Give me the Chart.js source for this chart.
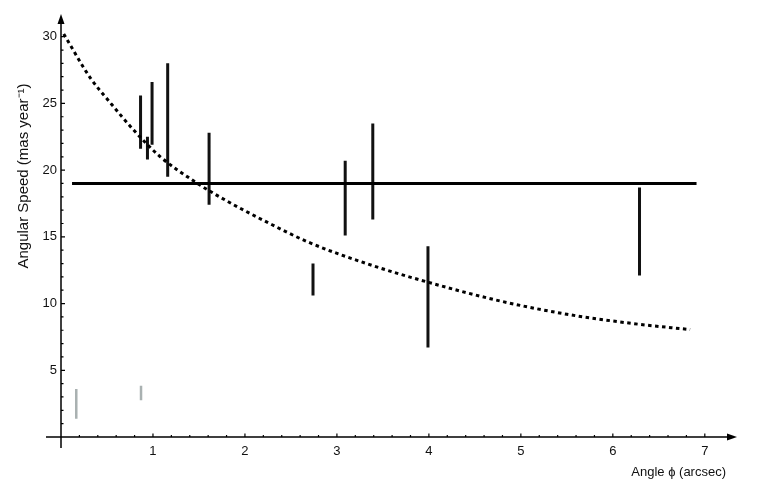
<!DOCTYPE html>
<html>
<head>
<meta charset="utf-8">
<script src="https://cdn.jsdelivr.net/npm/chart.js@4/dist/chart.umd.min.js"></script>
<style>
  html, body { margin: 0; padding: 0; background: #fff; }
  #wrap { width: 771px; height: 496px; }
</style>
</head>
<body>
<div id="wrap"><canvas id="speed-chart"></canvas></div>
<script>
// ==============================================================
//  Data
// ==============================================================

// black error bars: angle (arcsec), low / high speed (mas/yr)
const barX = [0.865, 0.94, 0.99, 1.16, 1.61, 2.74, 3.09, 3.39, 3.99, 6.29];
const barLow = [21.6, 20.8, 21.9, 19.5, 17.4, 10.6, 15.1, 16.3, 6.7, 12.1];
const barHigh = [25.6, 22.5, 26.6, 28.0, 22.8, 13.0, 20.7, 23.5, 14.3, 18.7];

// grey error bars
const greyX = [0.166, 0.87];
const greyLow = [1.36, 2.76];
const greyHigh = [3.6, 3.85];

// horizontal mean line
const meanX = [0.12, 6.91];
const meanY = [19, 19];

// dotted fit curve
const curveX = [0.03, 0.32, 0.53, 0.79, 1.08, 1.44, 1.8, 2.24, 2.69, 3.32, 3.99, 4.77, 5.5, 6.22, 6.84];
const curveY = [30.2, 26.9, 25.1, 23.0, 21.0, 19.2, 17.7, 16.1, 14.6, 13.0, 11.6, 10.2, 9.2, 8.5, 8.05];

// axes
const xTicks = [1, 2, 3, 4, 5, 6, 7];
const yTicks = [5, 10, 15, 20, 25, 30];
const xTitle = "Angle \u03D5 (arcsec)";
const yTitle = "Angular Speed (mas year\u207B\u00B9)";

const FONT = "'Liberation Sans', Arial, Helvetica, sans-serif";

// ==============================================================
//  Helpers
// ==============================================================

// turn bars into one broken line: low, high, gap, ...
const makeSegments = (xs, lows, highs) => {
  let pts = [];
  xs.forEach((x, i) => {
    pts.push({ x: x, y: lows[i] });
    pts.push({ x: x, y: highs[i] });
    pts.push({ x: x, y: null });
  });
  return pts;
};

const zip = (xs, ys) => xs.map((x, i) => ({ x: x, y: ys[i] }));

// draws the arrow axes, small ticks and titles
const axesPlugin = {
  id: "arrowAxes",
  afterDraw(chart) {
    const ctx = chart.ctx;
    const xs = chart.scales.x;
    const ys = chart.scales.y;
    const x0 = xs.getPixelForValue(0);
    const y0 = ys.getPixelForValue(0);
    const right = chart.chartArea.right;
    const top = chart.chartArea.top;

    ctx.save();
    ctx.strokeStyle = "#000";
    ctx.fillStyle = "#000";
    ctx.lineWidth = 1.5;

    // axis lines
    ctx.beginPath();
    ctx.moveTo(x0 - 15, y0);
    ctx.lineTo(right - 6, y0);
    ctx.moveTo(x0, y0 + 11);
    ctx.lineTo(x0, top + 6);
    ctx.stroke();

    // arrow heads
    ctx.beginPath();
    ctx.moveTo(right, y0);
    ctx.lineTo(right - 10, y0 - 3.5);
    ctx.lineTo(right - 10, y0 + 3.5);
    ctx.closePath();
    ctx.fill();
    ctx.beginPath();
    ctx.moveTo(x0, top);
    ctx.lineTo(x0 - 3.5, top + 10);
    ctx.lineTo(x0 + 3.5, top + 10);
    ctx.closePath();
    ctx.fill();

    // x ticks, every 0.2
    ctx.lineWidth = 1.2;
    ctx.beginPath();
    for (let i = 1; i <= 35; i++) {
      const px = xs.getPixelForValue(i / 5);
      const len = i % 5 === 0 ? 3.5 : 2;
      ctx.moveTo(px, y0);
      ctx.lineTo(px, y0 - len);
    }
    // y ticks, every 1
    for (let j = 1; j <= 30; j++) {
      const py = ys.getPixelForValue(j);
      const len = j % 5 === 0 ? 4 : 2.5;
      ctx.moveTo(x0, py);
      ctx.lineTo(x0 + len, py);
    }
    ctx.stroke();

    // titles
    ctx.fillStyle = "#111";
    ctx.font = "13px " + FONT;
    ctx.textAlign = "right";
    ctx.textBaseline = "middle";
    ctx.fillText(xTitle, 726, 472);

    ctx.translate(24, 176);
    ctx.rotate(-Math.PI / 2);
    ctx.font = "15px " + FONT;
    ctx.textAlign = "center";
    ctx.fillText(yTitle, 0, 0);
    ctx.restore();
  },
};

// ==============================================================
//  Chart
// ==============================================================

let speedCtx = document.getElementById("speed-chart").getContext("2d");

const lineSet = (label, data, color, width, extra) =>
  Object.assign(
    {
      label: label,
      data: data,
      showLine: true,
      borderColor: color,
      borderWidth: width,
      pointRadius: 0,
      pointHoverRadius: 0,
      spanGaps: false,
      borderCapStyle: "butt",
      tension: 0,
    },
    extra || {}
  );

var speedChart = new Chart(speedCtx, {
  type: "scatter",
  data: {
    datasets: [
      lineSet("fit", zip(curveX, curveY), "#000", 3, {
        borderDash: [3.5, 3.5],
        cubicInterpolationMode: "monotone",
      }),
      lineSet("mean", zip(meanX, meanY), "#000", 3),
      lineSet("bars", makeSegments(barX, barLow, barHigh), "#111", 3),
      lineSet("grey", makeSegments(greyX, greyLow, greyHigh), "#a9b1b1", 2.5),
    ],
  },
  options: {
    responsive: true,
    maintainAspectRatio: false,
    animation: false,
    events: [],
    layout: { padding: { top: 14, right: 34, left: 0, bottom: 0 } },
    plugins: {
      legend: { display: false },
      tooltip: { enabled: false },
    },
    scales: {
      x: {
        type: "linear",
        min: 0,
        max: 7.35,
        grid: { display: false, drawTicks: false, tickLength: 0 },
        border: { display: false },
        afterBuildTicks: (scale) => {
          scale.ticks = xTicks.map((v) => ({ value: v }));
        },
        afterFit: (scale) => {
          scale.height = 59;
        },
        ticks: {
          padding: 7,
          maxRotation: 0,
          autoSkip: false,
          color: "#111",
          font: { family: FONT, size: 13 },
        },
      },
      y: {
        type: "linear",
        min: 0,
        max: 31.7,
        grid: { display: false, drawTicks: false, tickLength: 0 },
        border: { display: false },
        afterBuildTicks: (scale) => {
          scale.ticks = yTicks.map((v) => ({ value: v }));
        },
        afterFit: (scale) => {
          scale.width = 61;
        },
        ticks: {
          padding: 4,
          autoSkip: false,
          color: "#111",
          font: { family: FONT, size: 13 },
        },
      },
    },
  },
  plugins: [axesPlugin],
});
</script>
</body>
</html>
